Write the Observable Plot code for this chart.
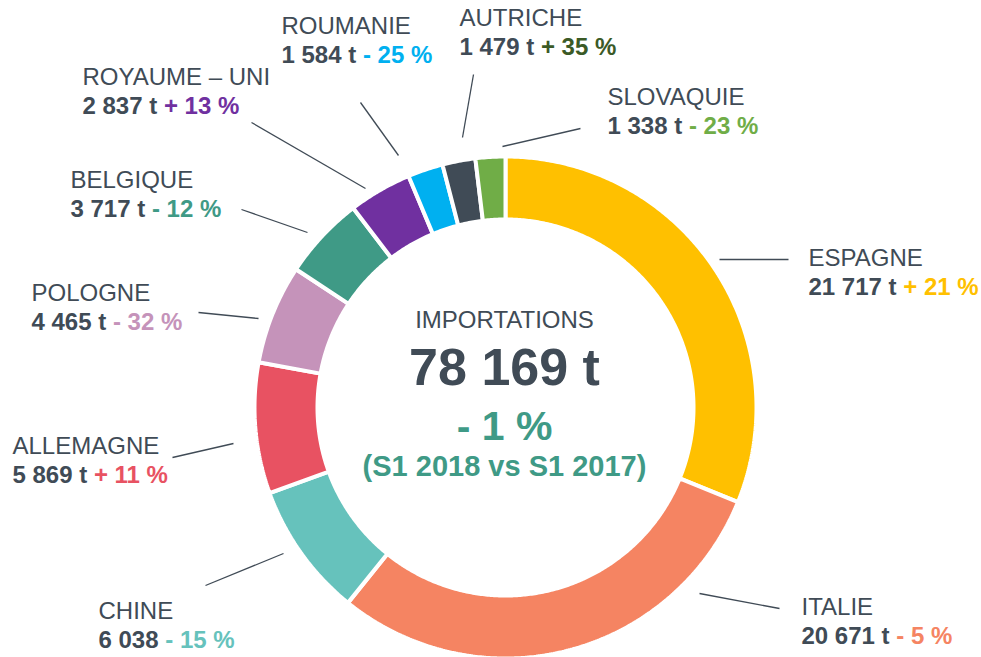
<!DOCTYPE html>
<html>
<head>
<meta charset="utf-8">
<script src="https://cdn.jsdelivr.net/npm/d3@7"></script>
<script src="https://cdn.jsdelivr.net/npm/@observablehq/plot@0.6"></script>
<style>
  html, body { margin: 0; padding: 0; background: #fff; }
  #chart svg { display: block; }
</style>
</head>
<body>
<div id="chart"></div>
<script>
// ---------- DATA ----------
const countries = ["ESPAGNE", "ITALIE", "CHINE", "ALLEMAGNE", "POLOGNE", "BELGIQUE", "ROYAUME – UNI", "ROUMANIE", "AUTRICHE", "SLOVAQUIE"];
const tonnes = [21717, 20671, 6038, 5869, 4465, 3717, 2837, 1584, 1479, 1338];
const tonnageLabels = ["21 717 t", "20 671 t", "6 038", "5 869 t", "4 465 t", "3 717 t", "2 837 t", "1 584 t", "1 479 t", "1 338 t"];
const changeLabels = ["+ 21 %", "- 5 %", "- 15 %", "+ 11 %", "- 32 %", "- 12 %", "+ 13 %", "- 25 %", "+ 35 %", "- 23 %"];
const sliceColors = ["#FFC000", "#F58462", "#66C2BC", "#E85262", "#C593BA", "#3F9A86", "#7030A0", "#00B0F0", "#404B56", "#70AD47"];
const changeColors = ["#FFC000", "#F58462", "#66C2BC", "#E85262", "#C593BA", "#3F9A86", "#7030A0", "#00B0F0", "#3B5A26", "#70AD47"];
const centerTitle = "IMPORTATIONS";
const centerTotal = "78 169 t";
const centerChange = "- 1 %";
const centerPeriod = "(S1 2018 vs S1 2017)";

// ---------- LAYOUT (annotation placement, pixels) ----------
const W = 981, H = 657;
const cx = 505, cy = 407, rOuter = 251, rInner = 188;
const labelLayout = [
  {x: 808, y: 258, line: [719, 259, 788, 259]},
  {x: 801, y: 607, line: [699, 593, 779, 608]},
  {x: 98,  y: 611, line: [283, 553, 205, 585]},
  {x: 12,  y: 446, line: [233, 443, 172, 457]},
  {x: 31,  y: 293, line: [258, 318, 198, 312]},
  {x: 70,  y: 180, line: [307, 232, 241, 209]},
  {x: 82,  y: 77,  line: [365, 188, 251, 122]},
  {x: 281, y: 26,  line: [398, 155, 360, 102]},
  {x: 459, y: 18,  line: [462, 137, 473, 74]},
  {x: 607, y: 97,  line: [502, 146, 580, 128]}
];
const lineGap = 29;
const fontFamily = "'Liberation Sans', Arial, Helvetica, sans-serif";
const textDark = "#404B56";
const labelSize = 24;

// ---------- BUILD ----------
const rows = countries.map((c, i) => ({
  country: c, value: tonnes[i], tonnage: tonnageLabels[i], change: changeLabels[i],
  color: sliceColors[i], changeColor: changeColors[i], ...labelLayout[i]
}));

const arcs = d3.pie().sort(null).value(d => d.value).startAngle(0).endAngle(2 * Math.PI)(rows);
const slicePts = [];
arcs.forEach(a => {
  const n = Math.max(4, Math.ceil((a.endAngle - a.startAngle) / (Math.PI / 360)));
  for (let k = 0; k <= n; k++) {
    const t = a.startAngle + (a.endAngle - a.startAngle) * k / n;
    slicePts.push({key: a.data.country, color: a.data.color, x: cx + rOuter * Math.sin(t), y: cy - rOuter * Math.cos(t)});
  }
  for (let k = n; k >= 0; k--) {
    const t = a.startAngle + (a.endAngle - a.startAngle) * k / n;
    slicePts.push({key: a.data.country, color: a.data.color, x: cx + rInner * Math.sin(t), y: cy - rInner * Math.cos(t)});
  }
});

// measure width of bold tonnage text to place the coloured change part after it
const ctx = document.createElement("canvas").getContext("2d");
ctx.font = `bold ${labelSize}px ${fontFamily}`;
rows.forEach(r => { r.changeX = r.x + ctx.measureText(r.tonnage + " ").width; });

const centerRows = [
  {text: centerTitle, y: 320, size: 24, weight: "normal", color: textDark},
  {text: centerTotal, y: 368, size: 52, weight: "bold", color: textDark},
  {text: centerChange, y: 426, size: 41, weight: "bold", color: "#3F9A86"},
  {text: centerPeriod, y: 466, size: 29, weight: "bold", color: "#3F9A86"}
];

const chart = Plot.plot({
  width: W, height: H,
  margin: 0,
  x: {domain: [0, W], range: [0, W], axis: null},
  y: {domain: [0, H], range: [0, H], axis: null},
  style: {fontFamily, background: "#fff"},
  marks: [
    Plot.line(slicePts, {x: "x", y: "y", z: "key", fill: d => d.color, stroke: "white", strokeWidth: 4, strokeLinejoin: "miter", curve: "linear-closed"}),
    Plot.link(rows, {x1: d => d.line[0], y1: d => d.line[1], x2: d => d.line[2], y2: d => d.line[3], stroke: textDark, strokeWidth: 1.3}),
    Plot.text(rows, {x: "x", y: "y", text: "country", textAnchor: "start", fontSize: labelSize, fill: textDark}),
    Plot.text(rows, {x: "x", y: d => d.y + lineGap, text: "tonnage", textAnchor: "start", fontSize: labelSize, fontWeight: "bold", fill: textDark}),
    Plot.text(rows, {x: "changeX", y: d => d.y + lineGap, text: "change", textAnchor: "start", fontSize: labelSize, fontWeight: "bold", fill: d => d.changeColor}),
    ...centerRows.map(c => Plot.text([c], {x: () => cx - 1, y: "y", text: "text", fontSize: c.size, fontWeight: c.weight, fill: c.color}))
  ]
});
document.getElementById("chart").appendChild(chart);
</script>
</body>
</html>
